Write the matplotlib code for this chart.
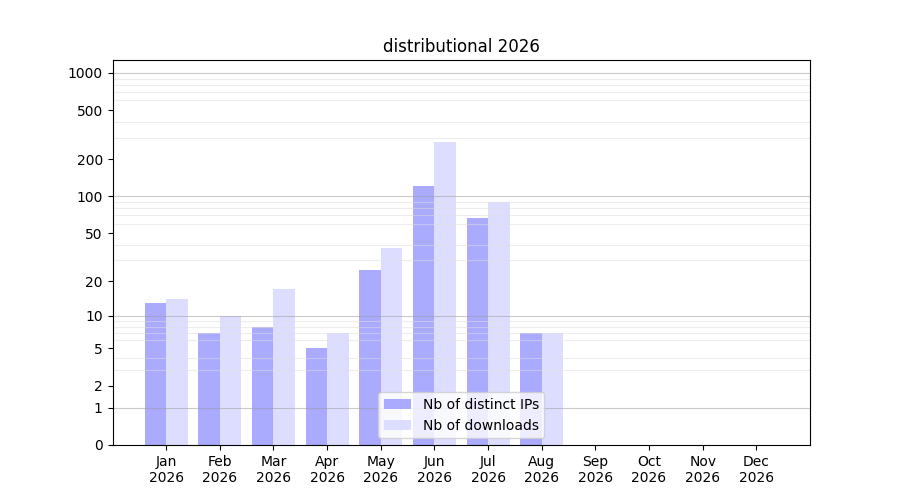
import numpy as np
import matplotlib
matplotlib.use("Agg")
import matplotlib.pyplot as plt

months = ["Jan", "Feb", "Mar", "Apr", "May", "Jun", "Jul", "Aug", "Sep", "Oct", "Nov", "Dec"]
year = "2026"
distinct_ips = [13, 7, 8, 5, 25, 122, 67, 7, 0, 0, 0, 0]
downloads = [14, 10, 17, 7, 38, 277, 90, 7, 0, 0, 0, 0]
yticks = [0, 1, 2, 5, 10, 20, 50, 100, 200, 500, 1000]

fig, ax = plt.subplots(figsize=(9, 5), dpi=100)

x = np.arange(len(months))
ax.bar(x - 0.2, distinct_ips, width=0.4, color="#aaaaff", label="Nb of distinct IPs")
ax.bar(x + 0.2, downloads, width=0.4, color="#ddddff", label="Nb of downloads")

ax.set_yscale("function", functions=(lambda v: np.log10(1 + np.maximum(v, 0)),
                                     lambda v: 10 ** v - 1))
ax.set_ylim(0, 1270)
ax.set_xlim(-1, 12)

# light grid at every 1..9 x decade, darker at decades
minor = [m * 10 ** d for d in range(0, 3) for m in range(2, 10)]
ax.set_yticks(minor, minor=True)
ax.tick_params(axis="y", which="minor", length=0)
ax.grid(axis="y", which="minor", color="#dddddd", alpha=0.5, linewidth=0.8)
for d in [1, 10, 100, 1000]:
    ax.axhline(d, color="#999999", alpha=0.5, linewidth=0.8)

ax.set_yticks(yticks)
ax.set_yticklabels([str(t) for t in yticks])
ax.set_xticks(x)
ax.set_xticklabels([m + "\n" + year for m in months])

ax.set_title("distributional 2026")
ax.legend(loc="lower center")

plt.savefig("out.png")
